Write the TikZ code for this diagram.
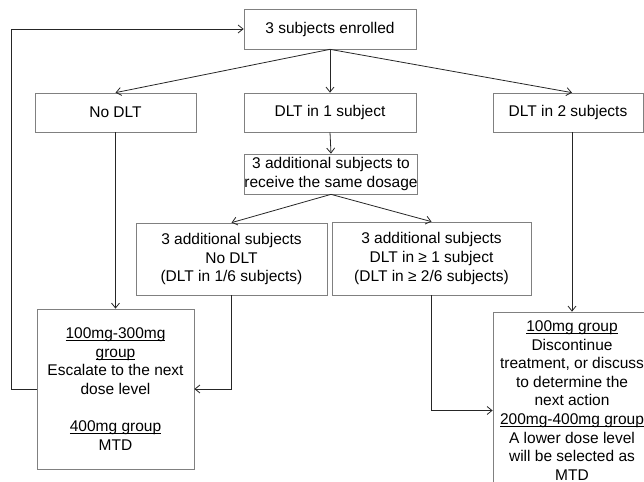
\documentclass[tikz,border=0pt]{standalone}
\usepackage{fontspec}
\setmainfont{Liberation Sans}
\usetikzlibrary{arrows.meta}
\newcommand\ulabel[1]{\setbox0\hbox{#1}\rlap{\rule[-2.2pt]{\wd0}{0.8pt}}\box0}
\begin{document}
\begin{tikzpicture}[x=1pt, y=-1pt]
			\tikzstyle{box}  = [rectangle, inner sep=0pt, draw=black!50, line width=0.7pt, align=center, font=\fontsize{15.5}{18.6}\selectfont]
			\tikzstyle{flow} = [draw=black!85, line width=0.8pt, -{Straight Barb[length=5pt, width=8pt]}]

			\useasboundingbox (0,0) rectangle (644,481);

			\node[box, minimum width=172, minimum height=40] (top) at (330, 29) {3 subjects enrolled};
			\node[box, minimum width=161, minimum height=39] (nodlt) at (115.5, 112.5) {No DLT};
			\node[box, minimum width=172, minimum height=39] (dlt1) at (330, 112.5) {DLT in 1 subject};
			\node[box, minimum width=150, minimum height=39] (dlt2) at (568, 112.5) {DLT in 2 subjects};
			\node[box, minimum width=172, minimum height=40] (extra) at (331, 174) {3 additional subjects to\\receive the same dosage};
			\node[box, minimum width=191, minimum height=72] (addno) at (231.5, 259) {3 additional subjects\\No DLT\\(DLT in 1/6 subjects)};
			\node[box, minimum width=199, minimum height=73] (addyes) at (431.5, 258.5) {3 additional subjects\\DLT in ≥ 1 subject\\(DLT in ≥ 2/6 subjects)};
			\node[box, minimum width=157, minimum height=160] (escal) at (115.5, 389) {\ulabel{100mg-300mg}\\\ulabel{group}\\Escalate to the next\\dose level\\[18.6pt]\ulabel{400mg group}\\MTD};
			\node[box, minimum width=158, minimum height=177] (lower) at (572, 400.5) {\ulabel{100mg group}\\Discontinue\\treatment, or discuss\\to determine the\\next action\\\ulabel{200mg-400mg group}\\A lower dose level\\will be selected as\\MTD};

			\foreach \from/\to in {top/nodlt, top/dlt1, dlt1/extra, extra/addno, extra/addyes, nodlt/escal}
				\path[flow] (\from.south) -- (\to.north);

			\path[flow] (top.south) -- (dlt2.north -| lower.north);
			\path[flow] (dlt2.south -| lower.north) -- (lower.north);

			% loops back to the top
			\path[flow] (escal.west) -- ++(-25,0) |- (top.west);
			\path[flow] (addno.south) |- (escal.east);
			\path[flow] (addyes.south) |- ([yshift=-10pt]lower.west);

		\end{tikzpicture}
\end{document}
